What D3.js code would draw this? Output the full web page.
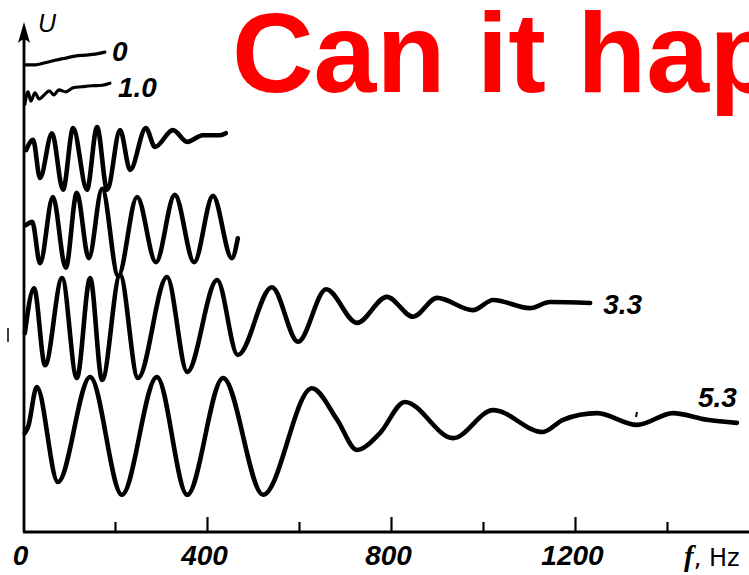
<!DOCTYPE html>
<html>
<head>
<meta charset="utf-8">
<script src="https://cdn.jsdelivr.net/npm/d3@7"></script>
<style>
  html, body { margin: 0; padding: 0; background: #fff; }
  svg { display: block; }
</style>
</head>
<body>
<svg id="chart" width="749" height="575"></svg>
<script>
// Frequency response traces U(f); each point is [f in Hz, relative amplitude U].
const trace0 = [[4,91.6],[26,91.6],[48,92.0],[70,92.5],[91,92.9],[113,93.3],[135,93.5],[157,93.7],[178,94.1]];
const trace1_0 = [[4,83.9],[11,86.3],[17,84.5],[26,86.1],[35,84.9],[46,85.7],[57,86.5],[67,85.7],[78,86.7],[93,86.3],[109,87.1],[128,87.3],[150,87.5],[172,87.6],[189,88.0]];
const traceC = [[7,74.9],[22,76.9],[37,69.4],[63,78.2],[87,67.1],[109,79.2],[139,67.1],[161,79.4],[183,67.1],[211,78.8],[233,71.0],[267,79.2],[287,75.5],[326,78.8],[357,76.5],[391,77.8],[428,77.8],[441,78.2]];
const traceD = [[7,60.2],[20,60.8],[37,52.7],[65,65.7],[93,51.8],[117,66.5],[143,53.7],[172,67.3],[207,50.2],[248,65.7],[289,52.9],[330,66.1],[372,52.9],[413,65.9],[454,53.7],[467,57.6]];
const trace3_3 = [[4,39.0],[24,47.8],[48,32.7],[85,49.8],[117,30.2],[146,49.8],[172,29.8],[211,50.4],[250,30.2],[313,50.0],[357,31.4],[422,49.4],[467,34.7],[541,48.0],[598,37.3],[659,47.6],[726,41.0],[791,46.1],[848,42.2],[900,45.9],[978,43.5],[1022,45.5],[1102,43.9],[1146,45.1],[1233,44.9]];
const trace5_3 = [[4,19.4],[11,20.6],[30,28.4],[76,9.8],[146,30.4],[215,7.3],[291,30.4],[357,7.3],[435,30.2],[522,7.3],[628,28.2],[683,22.0],[726,16.1],[776,19.4],[830,25.5],[935,18.4],[1022,23.9],[1130,19.6],[1174,22.0],[1248,23.3],[1335,21.0],[1413,23.3],[1487,22.0],[1552,21.4]];

const traces = [trace0, trace1_0, traceC, traceD, trace3_3, trace5_3];
const traceLabels = ["0", "1.0", null, null, "3.3", "5.3"];

const tickFreqs = [200, 400, 600, 800, 1000, 1200, 1400];
const labelFreqs = [0, 400, 800, 1200];
const fAxisEnd = 1580;
const uAxisTop = 100;

const svg = d3.select("#chart");
const x = d3.scaleLinear().domain([0, 1400]).range([23, 667]);
const y = d3.scaleLinear().domain([0, 100]).range([532, 22]);

// Title
svg.append("text")
  .attr("x", 232).attr("y", 92)
  .attr("font-family", "'Liberation Sans', Arial, sans-serif")
  .attr("font-weight", "bold")
  .attr("font-size", 113)
  .attr("fill", "#ff0000")
  .text("Can it happen?");

// Axes
const axisG = svg.append("g").attr("stroke", "#000").attr("fill", "none");
axisG.append("line")
  .attr("x1", x(0)).attr("x2", x(fAxisEnd))
  .attr("y1", y(0)).attr("y2", y(0))
  .attr("stroke-width", 2.8);
axisG.append("line")
  .attr("x1", x(0) + 1).attr("x2", x(0) + 1)
  .attr("y1", y(0)).attr("y2", y(uAxisTop) + 6)
  .attr("stroke-width", 2.8);
// arrow head on the U axis
const ax = x(0) + 1, ay = y(uAxisTop);
svg.append("path")
  .attr("d", `M${ax},${ay} L${ax + 6},${ay + 21} Q${ax},${ay + 14} ${ax - 6},${ay + 21} Z`)
  .attr("fill", "#000");

// ticks pointing up
const tickAxis = d3.axisBottom(x).tickValues(tickFreqs).tickFormat("")
  .tickSizeInner(-12).tickSizeOuter(0);
const tg = svg.append("g").attr("transform", `translate(0,${y(0)})`).call(tickAxis);
tg.select(".domain").remove();
tg.selectAll(".tick line").attr("stroke", "#000").attr("stroke-width", 2.2)
  .attr("y2", d => (labelFreqs.includes(d) ? -15 : -10));

// tick labels
const labelAxis = d3.axisBottom(x).tickValues(labelFreqs).tickFormat(d3.format("d"))
  .tickSize(0).tickPadding(13);
const lg = svg.append("g").attr("transform", `translate(0,${y(0)})`).call(labelAxis);
lg.select(".domain").remove();
lg.selectAll(".tick text")
  .attr("dx", -3)
  .attr("font-family", "'Liberation Sans', Arial, sans-serif")
  .attr("font-weight", "bold")
  .attr("font-style", "italic")
  .attr("font-size", 28)
  .attr("fill", "#000");

// axis titles
svg.append("text")
  .attr("x", 38).attr("y", 32)
  .attr("font-family", "'Liberation Sans', Arial, sans-serif")
  .attr("font-style", "italic")
  .attr("font-size", 25)
  .text("U");

const fLabel = svg.append("text").attr("x", 684).attr("y", 566);
fLabel.append("tspan")
  .attr("font-family", "'Liberation Serif', serif")
  .attr("font-style", "italic").attr("font-weight", "bold")
  .attr("font-size", 29).text("f");
fLabel.append("tspan")
  .attr("font-family", "'DejaVu Sans', sans-serif")
  .attr("font-size", 24).text(", Hz");

// traces
const line = d3.line()
  .x(d => x(d[0])).y(d => y(d[1]))
  .curve(d3.curveMonotoneX);

svg.append("g").selectAll("path").data(traces).join("path")
  .attr("d", line)
  .attr("fill", "none")
  .attr("stroke", "#000")
  .attr("stroke-width", (d, i) => (i < 2 ? 3.2 : 4.6))
  .attr("stroke-linejoin", "round")
  .attr("stroke-linecap", "round");

// trace labels, placed relative to each trace's last point
const labelOffsets = [[7, 9], [8, 14], null, null, [13, 11], [-39, -16]];
traces.forEach((t, i) => {
  if (!traceLabels[i]) return;
  const last = t[t.length - 1];
  svg.append("text")
    .attr("x", x(last[0]) + labelOffsets[i][0])
    .attr("y", y(last[1]) + labelOffsets[i][1])
    .attr("font-family", "'Liberation Sans', Arial, sans-serif")
    .attr("font-weight", "bold")
    .attr("font-style", "italic")
    .attr("font-size", 28)
    .text(traceLabels[i]);
});

// small print marks
svg.append("line").attr("x1", 8).attr("x2", 8).attr("y1", 328).attr("y2", 342)
  .attr("stroke", "#000").attr("stroke-width", 1.5);
svg.append("line").attr("x1", 637).attr("x2", 636).attr("y1", 412).attr("y2", 417)
  .attr("stroke", "#000").attr("stroke-width", 2);
</script>
</body>
</html>
